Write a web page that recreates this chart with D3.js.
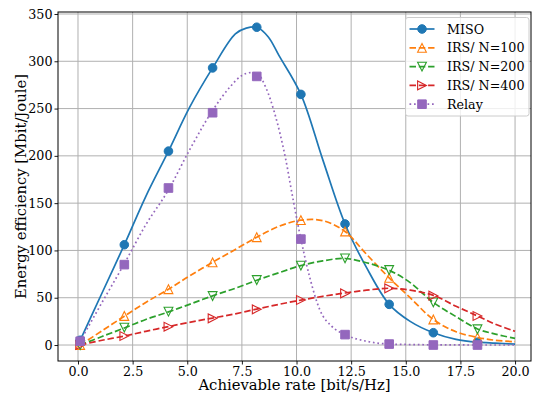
<!DOCTYPE html>
<html>
<head>
<meta charset="utf-8">
<script src="https://cdn.jsdelivr.net/npm/d3@7"></script>
<style>
  html, body { margin: 0; padding: 0; background: #fff; }
  svg { display: block; }
  text { font-family: "DejaVu Serif", "Liberation Serif", serif; fill: #000; }
</style>
</head>
<body>
<svg id="chart" width="536" height="394"></svg>
<script>
// ---------- data ----------
const seriesNames = ["MISO", "IRS/ N=100", "IRS/ N=200", "IRS/ N=400", "Relay"];
const xTicks = [0, 2.5, 5, 7.5, 10, 12.5, 15, 17.5, 20];
const yTicks = [0, 50, 100, 150, 200, 250, 300, 350];

// curve samples (rate, bit/s/Hz)
const lineRate = [0.1, 1.1, 2.12, 3.1, 4.14, 5.1, 6.16, 7.2, 8.18, 9.2, 10.2, 11.2, 12.22, 13.2, 14.24, 15.2, 16.26, 17.3, 18.28, 19.1, 20];
const misoRate = [0.1, 1.1, 2.12, 3.1, 4.14, 5.1, 6.16, 7.2, 7.7, 8.18, 8.7, 9.2, 10.2, 11.2, 12.22, 13.2, 14.24, 15.2, 16.26, 17.3, 18.28, 19.1, 20];
const misoLine   = [5, 55, 106, 157, 205, 251, 293, 329, 335, 336, 326, 306, 265, 196, 128, 82, 43, 25, 13, 6, 3, 2, 1];
const irs100Line = [0, 15, 30.5, 45, 59, 73, 87.5, 101, 114, 125.5, 132, 131.5, 120, 96, 71, 50, 27, 14, 8, 5, 3.5];
const irs200Line = [0, 9, 18, 27, 35, 43, 52, 60, 68.5, 76.5, 84, 89, 91.5, 87, 79, 66, 45, 30, 17, 11.5, 7];
const irs400Line = [0, 5, 9.5, 14.5, 19.5, 24, 28.5, 33, 38, 43, 47.5, 51.5, 55, 58, 60, 58, 52.5, 41, 30.7, 22, 14.5];
const relayRate = [0.1, 1.1, 2.12, 3.1, 4.14, 5.1, 6.16, 7.0, 7.5, 7.9, 8.2, 8.6, 9.0, 9.5, 9.85, 10.2, 10.6, 11.07, 11.6, 12.22, 13.2, 14.24, 15.2, 16.26, 17.3, 18.28, 19.1, 20];
const relayLine = [4, 45, 86, 127, 164, 206, 248, 274, 285, 288, 287, 272, 245, 197, 153, 112, 72, 37, 20, 11, 4, 1, 0.5, 0.2, 0.1, 0, 0, 0];

// marker samples
const markerRate  = [0.1, 2.12, 4.14, 6.16, 8.18, 10.2, 12.22, 14.24, 16.26, 18.28];
const misoMarks   = [5, 106, 205, 293, 336, 265, 128, 43, 13, 3];
const irs100Marks = [0, 30.7, 59, 87.4, 114, 132, 120, 71, 27, 8];
const irs200Marks = [0, 18.3, 35.2, 51.8, 68.7, 83.9, 91.6, 79.3, 45, 16.6];
const irs400Marks = [0, 9.5, 19.4, 28.2, 37.7, 47.6, 54.6, 59.9, 52.2, 30.7];
const relayMarks  = [4, 85, 166, 245.6, 284, 112, 11, 1, 0, 0];

// ---------- layout ----------
const FONT = '"DejaVu Serif", "Liberation Serif", serif';
const svg = d3.select("#chart");
const L = 58, R = 531, T = 12, B = 361;
const x = d3.scaleLinear().domain([-0.915, 20.73]).range([L, R]);
const y = d3.scaleLinear().domain([-16.9, 352.1]).range([B, T]);

const colors = ["#1f77b4", "#ff7f0e", "#2ca02c", "#d62728", "#9467bd"];
const smooth = d3.curveCatmullRom.alpha(0.5);
const series = [
  {name: seriesNames[0], rate: misoRate, line: misoLine, marks: misoMarks, color: colors[0], dash: null, marker: "circle", curve: smooth},
  {name: seriesNames[1], rate: lineRate, line: irs100Line, marks: irs100Marks, color: colors[1], dash: "6.5,2.8", marker: "up", curve: smooth},
  {name: seriesNames[2], rate: lineRate, line: irs200Line, marks: irs200Marks, color: colors[2], dash: "6.5,2.8", marker: "down", curve: smooth},
  {name: seriesNames[3], rate: lineRate, line: irs400Line, marks: irs400Marks, color: colors[3], dash: "6.5,2.8", marker: "right", curve: smooth},
  {name: seriesNames[4], rate: relayRate, line: relayLine, marks: relayMarks, color: colors[4], dash: "1.7,2.8", marker: "square", curve: d3.curveMonotoneX}
];

// grid
const grid = svg.append("g");
grid.selectAll("line.gx").data(xTicks).enter().append("line")
  .attr("x1", d => x(d)).attr("x2", d => x(d)).attr("y1", T).attr("y2", B)
  .attr("stroke", "#b0b0b0").attr("stroke-width", 1);
grid.selectAll("line.gy").data(yTicks).enter().append("line")
  .attr("y1", d => y(d)).attr("y2", d => y(d)).attr("x1", L).attr("x2", R)
  .attr("stroke", "#b0b0b0").attr("stroke-width", 1);

// axes
const xAxis = d3.axisBottom(x).tickValues(xTicks).tickFormat(d3.format(".1f")).tickSize(3.5).tickPadding(2);
const yAxis = d3.axisLeft(y).tickValues(yTicks).tickFormat(d3.format("d")).tickSize(3.5).tickPadding(2);
const gx = svg.append("g").attr("transform", `translate(0,${B})`).call(xAxis);
const gy = svg.append("g").attr("transform", `translate(${L},0)`).call(yAxis);
[gx, gy].forEach(g => {
  g.attr("font-family", FONT).attr("font-size", 12.7);
  g.select(".domain").remove();
  g.selectAll("text").style("font-family", FONT).style("font-size", "12.7px").attr("fill", "#000");
  g.selectAll("line").attr("stroke", "#000").attr("stroke-width", 0.9);
});

// clip
svg.append("clipPath").attr("id", "clip").append("rect")
  .attr("x", L).attr("y", T).attr("width", R - L).attr("height", B - T);

const plot = svg.append("g").attr("clip-path", "url(#clip)");

function markerPath(type, s) {
  const h = s / 2;
  if (type === "up") return `M0,${-h}L${-h},${h}L${h},${h}Z`;
  if (type === "down") return `M0,${h}L${-h},${-h}L${h},${-h}Z`;
  if (type === "right") return `M${h},0L${-h},${-h}L${-h},${h}Z`;
  if (type === "square") return `M${-h},${-h}H${h}V${h}H${-h}Z`;
  return d3.symbol(d3.symbolCircle, Math.PI * h * h)();
}
function drawMarker(g, type, color, cx, cy) {
  const filled = (type === "circle" || type === "square");
  const s = filled ? 8.6 : 8.8;
  g.append("path").attr("d", markerPath(type, s))
    .attr("transform", `translate(${cx},${cy})`)
    .attr("fill", filled ? color : "none")
    .attr("stroke", color).attr("stroke-width", filled ? 1 : 1.1);
}

series.forEach(sr => {
  const lineGen = d3.line().curve(sr.curve);
  const pts = sr.rate.map((r, i) => [x(r), y(sr.line[i])]);
  plot.append("path").attr("d", lineGen(pts))
    .attr("fill", "none").attr("stroke", sr.color).attr("stroke-width", 1.7)
    .attr("stroke-dasharray", sr.dash);
  const mg = plot.append("g");
  markerRate.forEach((r, i) => drawMarker(mg, sr.marker, sr.color, x(r), y(sr.marks[i])));
});

// frame
svg.append("rect").attr("x", L).attr("y", T).attr("width", R - L).attr("height", B - T)
  .attr("fill", "none").attr("stroke", "#000").attr("stroke-width", 1);

// axis labels
svg.append("text").attr("x", (L + R) / 2).attr("y", 390).attr("text-anchor", "middle")
  .style("font-family", FONT).style("font-size", "14.8px").text("Achievable rate [bit/s/Hz]");
svg.append("text").attr("transform", `translate(26,${(T + B) / 2}) rotate(-90)`)
  .attr("text-anchor", "middle").style("font-family", FONT).style("font-size", "14.8px")
  .text("Energy efficiency [Mbit/Joule]");

// legend
const lg = svg.append("g");
lg.append("rect").attr("x", 405.5).attr("y", 17.5).attr("width", 123.5).attr("height", 98.5)
  .attr("rx", 2.5).attr("fill", "#fff").attr("fill-opacity", 0.8)
  .attr("stroke", "#cccccc").attr("stroke-width", 1);
series.forEach((sr, i) => {
  const cy = 29 + i * 18.8;
  lg.append("line").attr("x1", 409.5).attr("x2", 434.5).attr("y1", cy).attr("y2", cy)
    .attr("stroke", sr.color).attr("stroke-width", 1.7).attr("stroke-dasharray", sr.dash);
  drawMarker(lg, sr.marker, sr.color, 422, cy);
  lg.append("text").attr("x", 447).attr("y", cy + 4.5)
    .style("font-family", FONT).style("font-size", "12.7px").text(sr.name);
});
</script>
</body>
</html>
